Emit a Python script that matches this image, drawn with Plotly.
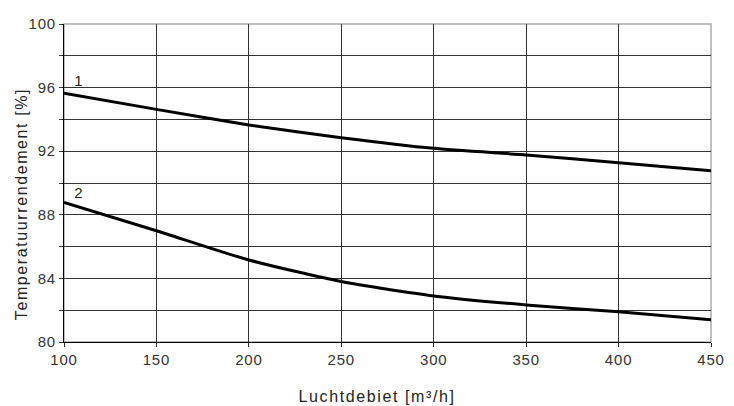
import plotly.graph_objects as go

airflow = [100, 150, 200, 250, 300, 350, 400, 450]
curve1 = [95.64, 94.63, 93.65, 92.85, 92.18, 91.76, 91.28, 90.77]
curve2 = [88.78, 87.0, 85.16, 83.8, 82.9, 82.33, 81.9, 81.4]
curve_labels = ["1", "2"]
x_ticks = [100, 150, 200, 250, 300, 350, 400, 450]
y_ticks = [80, 84, 88, 92, 96, 100]
x_title = "Luchtdebiet [m³/h]"
y_title = "Temperatuurrendement [%]"

FONT = "Liberation Sans, Arial, sans-serif"
GRID = "#333333"

fig = go.Figure()
for ys in (curve1, curve2):
    fig.add_trace(go.Scatter(x=airflow, y=ys, mode="lines",
                             line=dict(color="black", width=3, shape="spline", smoothing=0.6),
                             showlegend=False, hoverinfo="skip"))

for lab, ys, ysh in zip(curve_labels, (curve1, curve2), (2, -1)):
    fig.add_annotation(x=airflow[0], y=ys[0], text=lab, showarrow=False,
                       xanchor="left", yanchor="bottom", xshift=9, yshift=ysh,
                       font=dict(family=FONT, size=15, color="#222"))

# axis titles
fig.add_annotation(xref="paper", yref="paper", x=0, y=0.5, text=y_title,
                   textangle=-90, showarrow=False, xanchor="center", yanchor="middle",
                   xshift=-43, yshift=-21,
                   font=dict(family=FONT, size=16, color="#222"))
fig.add_annotation(xref="paper", yref="paper", x=0.5, y=0, text=x_title,
                   showarrow=False, xanchor="center", yanchor="middle",
                   xshift=-11, yshift=-54,
                   font=dict(family=FONT, size=16, color="#222"))

# light frame (top/right appear grey)
fig.add_shape(type="rect", xref="paper", yref="paper", x0=0, y0=0, x1=1, y1=1,
              line=dict(color="#aaaaaa", width=1.5), layer="below")

fig.update_xaxes(range=[100, 450], tickvals=x_ticks, showgrid=True,
                 gridcolor=GRID, gridwidth=1, showline=True, linecolor="black",
                 linewidth=1, ticks="outside", ticklen=4, tickcolor=GRID,
                 zeroline=False,
                 tickfont=dict(family=FONT, size=15, color="#333333"))
fig.update_yaxes(range=[80, 100], tickvals=y_ticks, showgrid=True,
                 gridcolor=GRID, gridwidth=1, showline=True, linecolor="black",
                 linewidth=1, ticks="outside", ticklen=4, tickcolor=GRID,
                 zeroline=False,
                 minor=dict(dtick=2, tick0=80, showgrid=True, gridcolor=GRID,
                            gridwidth=1, ticks="outside", ticklen=4, tickcolor=GRID),
                 tickfont=dict(family=FONT, size=15, color="#333333"))

fig.update_layout(width=726, height=398, margin=dict(l=56, r=23, t=16, b=64, autoexpand=False),
                  plot_bgcolor="white", paper_bgcolor="white")

post = """
var gd = document.getElementById('{plot_id}');
function spacing(){
  gd.querySelectorAll('.xtick text, .ytick text').forEach(function(e){e.style.letterSpacing='0.8px';});
  gd.querySelectorAll('.annotation-text').forEach(function(e){e.style.letterSpacing='1.6px';});
}
spacing();
gd.on && gd.on('plotly_afterplot', spacing);
"""

fig.write_html("out.html", post_script=post)
